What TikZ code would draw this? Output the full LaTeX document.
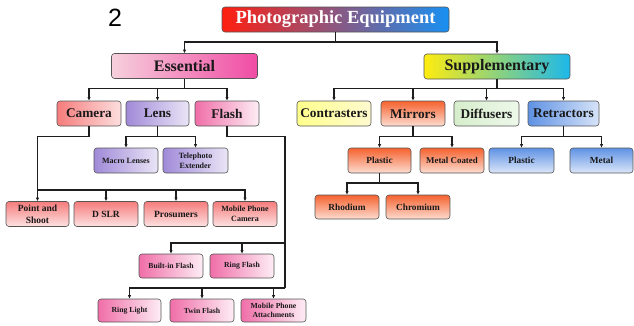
\documentclass[tikz,border=0pt]{standalone}
\usepackage{fontspec}
\setmainfont{Liberation Serif}
\newfontfamily\numfont{Liberation Sans}
\usetikzlibrary{arrows.meta}

\definecolor{edge}{HTML}{555555}
\definecolor{wire}{HTML}{1E1E1E}
\definecolor{camred}{HTML}{F67C7C}
\definecolor{lenspur}{HTML}{A08AD8}
\definecolor{flpink}{HTML}{F06EA8}
\definecolor{mirora}{HTML}{F5622F}
\definecolor{retblu}{HTML}{5F92E4}
\definecolor{tleft}{HTML}{FF1E10}
\definecolor{tmid}{HTML}{B85EA8}
\definecolor{tright}{HTML}{1890F2}
\definecolor{eleft}{HTML}{F6D0DC}
\definecolor{emid}{HTML}{EAB6D6}
\definecolor{eright}{HTML}{F04CA4}
\definecolor{sleft}{HTML}{FFEC10}
\definecolor{smid}{HTML}{DCB28C}
\definecolor{sright}{HTML}{1CB8EA}
\definecolor{cleft}{HTML}{FFFF8C}
\definecolor{cright}{HTML}{FFFAD0}
\definecolor{dleft}{HTML}{D6EECC}
\definecolor{dright}{HTML}{EEF8EA}

\tikzset{
  box/.style={draw=edge, line width=0.6pt, rounded corners=3pt, align=center,
    inner sep=1pt, text=black!90},
  sz/.style 2 args={minimum width=#1pt, minimum height=#2pt},
  fs/.style={font=\fontsize{#1}{11}\selectfont\bfseries},
  ln/.style={draw=wire, line width=1.1pt},
  arr/.style={ln, -{Latex[length=3.6pt,width=3.4pt]}},
  % colour families
  camc/.style={left color=#1, right color=#1!25!white},
  redv/.style={top color=#1, bottom color=#1!22!white},
  lensc/.style={left color=#1, right color=#1!22!white},
  flc/.style={left color=#1, right color=#1!12!white},
}

\begin{document}
\begin{tikzpicture}[x=1pt, y=-1pt]
\useasboundingbox (0,0) rectangle (634,325);

% page number
\node[font=\numfont\fontsize{25}{25}\selectfont] (num) at (115,18) {2};

% root
\node[box, sz={227}{25}, fs=18.5, text=white, left color=tleft, middle color=tmid, right color=tright]
  (title) at (335.5,19.5) {Photographic Equipment};

% first level
\node[box, sz={146}{25}, fs=16, left color=eleft, middle color=emid, right color=eright]
  (ess) at (184.5,66) {Essential};
\node[box, sz={146}{25}, fs=16, left color=sleft, middle color=smid, right color=sright]
  (sup) at (497,66.5) {Supplementary};

% second level
\node[box, sz={64}{25}, fs=13.3, camc=camred] (cam) at (89,113.5) {Camera};
\node[box, sz={63}{25}, fs=13.3, lensc=lenspur] (lens) at (157.5,113.5) {Lens};
\node[box, sz={64}{25}, fs=13.3, flc=flpink] (flash) at (227,113.5) {Flash};
\node[box, sz={74}{25}, fs=13.3, left color=cleft, right color=cright] (con) at (334,113.5) {Contrasters};
\node[box, sz={64}{25}, fs=13.3, redv=mirora] (mir) at (413,113.5) {Mirrors};
\node[box, sz={65}{25}, fs=13.3, left color=dleft, right color=dright] (dif) at (486.5,113.5) {Diffusers};
\node[box, sz={71}{25}, fs=13.3, left color=retblu, right color=retblu!25!white] (ret) at (563.5,113.5) {Retractors};

% lens types
\node[box, sz={64}{25}, fs=8, lensc=lenspur] (macro) at (126,160.5) {Macro Lenses};
\node[box, sz={65}{25}, fs=8, lensc=lenspur] (tele) at (195.5,160.5) {Telephoto\\[-1pt]Extender};

% mirror and retractor types
\node[box, sz={63}{25}, fs=9.3, redv=mirora] (mpl) at (379.5,160.5) {Plastic};
\node[box, sz={64}{25}, fs=8.9, redv=mirora] (mco) at (452,160.5) {Metal Coated};
\node[box, sz={65}{25}, fs=9.3, redv=retblu] (rpl) at (521.5,160.5) {Plastic};
\node[box, sz={63}{25}, fs=9.3, redv=retblu] (rme) at (601.5,160.5) {Metal};
\node[box, sz={64}{24}, fs=9.3, redv=mirora] (rho) at (347,207) {Rhodium};
\node[box, sz={64}{24}, fs=9.3, redv=mirora] (chr) at (418,207) {Chromium};

% camera types
\node[box, sz={63}{25}, fs=9.5, redv=camred] (ps) at (37.5,214) {Point and\\[1pt]Shoot};
\node[box, sz={64}{25}, fs=9.5, redv=camred] (dslr) at (106,214) {D SLR};
\node[box, sz={64}{25}, fs=9.5, redv=camred] (pros) at (176,214) {Prosumers};
\node[box, sz={64}{25}, fs=8, redv=camred] (mpc) at (245,214) {Mobile Phone\\[-1pt]Camera};

% flash types
\node[box, sz={64}{24}, fs=7.7, flc=flpink] (bif) at (171,266) {Built-in Flash};
\node[box, sz={64}{24}, fs=7.7, flc=flpink] (rf) at (242,266) {Ring Flash};
\node[box, sz={63}{23}, fs=7.7, flc=flpink] (rl) at (129.5,310.5) {Ring Light};
\node[box, sz={64}{23}, fs=7.7, flc=flpink] (tf) at (202,310.5) {Twin Flash};
\node[box, sz={65}{23}, fs=7.7, flc=flpink] (mpa) at (273.5,310.5) {Mobile Phone\\[-1.5pt]Attachments};

% bus levels
\coordinate (y0) at (0,42);
\coordinate (y1) at (0,88.5);
\coordinate (yc) at (0,136.5);
\coordinate (ycam) at (0,190);
\coordinate (yrho) at (0,183);
\coordinate (yf1) at (0,243);
\coordinate (yf2) at (0,288);
\coordinate (xf) at (285,0);

% root to first level
\draw[ln] (title.south) -- (title.south |- y0);
\draw[arr] (title.south |- y0) -| (ess.north);
\draw[arr] (title.south |- y0) -| (sup.north);

% essential branch
\draw[ln] (ess.south) -- (ess.south |- y1);
\draw[arr] (ess.south |- y1) -| (cam.north);
\draw[arr] (ess.south |- y1) -| (lens.north);
\draw[arr] (ess.south |- y1) -| (flash.north);

% supplementary branch
\draw[ln] (sup.south) -- (sup.south |- y1);
\draw[arr] (sup.south |- y1) -| (con.north);
\draw[arr] (sup.south |- y1) -| (mir.north);
\draw[arr] (sup.south |- y1) -| (dif.north);
\draw[arr] (sup.south |- y1) -| (ret.north);

% lens
\draw[ln] (lens.south) -- (lens.south |- yc);
\draw[arr] (lens.south |- yc) -| (macro.north);
\draw[arr] (lens.south |- yc) -| (tele.north);

% mirrors
\draw[ln] (mir.south) -- (mir.south |- yc);
\draw[arr] (mir.south |- yc) -| (mpl.north);
\draw[arr] (mir.south |- yc) -| (mco.north);
\draw[ln] (mpl.south) -- (mpl.south |- yrho);
\draw[arr] (mpl.south |- yrho) -| (rho.north);
\draw[arr] (mpl.south |- yrho) -| (chr.north);

% retractors
\draw[ln] (ret.south) -- (ret.south |- yc);
\draw[arr] (ret.south |- yc) -| (rpl.north);
\draw[arr] (ret.south |- yc) -| (rme.north);

% camera
\draw[ln] (cam.south) -- (cam.south |- yc) -| (ps.north |- ycam);
\draw[arr] (ps.north |- ycam) -- (ps.north);
\draw[arr] (ps.north |- ycam) -| (dslr.north);
\draw[arr] (ps.north |- ycam) -| (pros.north);
\draw[arr] (ps.north |- ycam) -| (mpc.north);

% flash
\draw[ln] (flash.south) -- (flash.south |- yc) -| (xf |- yf2);
\draw[arr] (xf |- yf1) -| (bif.north);
\draw[arr] (xf |- yf1) -| (rf.north);
\draw[arr] (xf |- yf2) -| (rl.north);
\draw[arr] (xf |- yf2) -| (tf.north);
\draw[arr] (xf |- yf2) -| (mpa.north);
\end{tikzpicture}
\end{document}
